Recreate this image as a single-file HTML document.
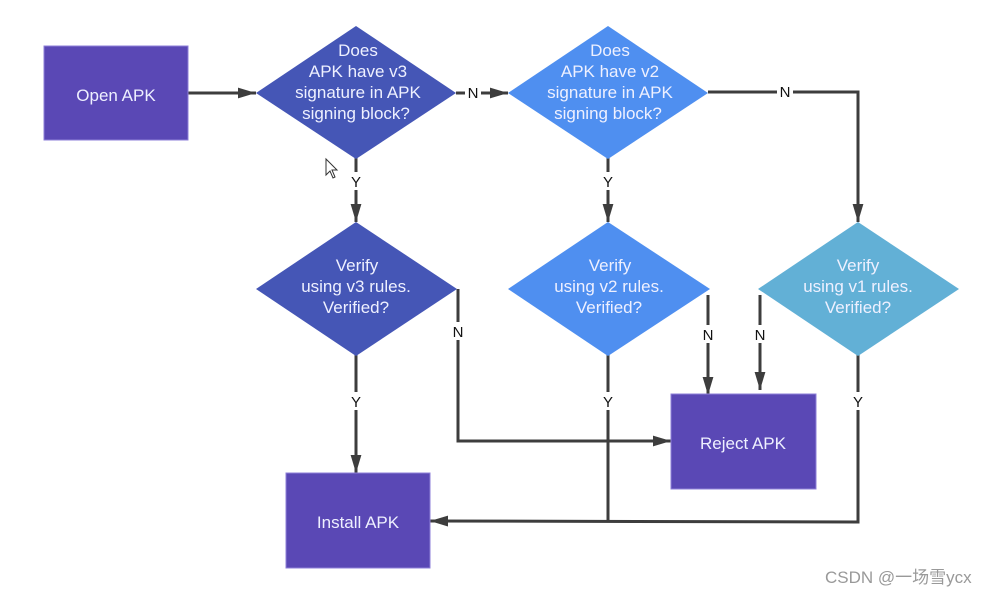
<!DOCTYPE html>
<html><head><meta charset="utf-8"><style>
html,body{margin:0;padding:0;background:#fff;}
svg{display:block;}
text{font-family:"Liberation Sans",Arial,sans-serif;}
</style></head><body>
<svg width="999" height="596" viewBox="0 0 999 596" xmlns="http://www.w3.org/2000/svg">
<defs>
<marker id="a" viewBox="0 0 10 10" refX="10" refY="5" markerWidth="6" markerHeight="6" orient="auto" markerUnits="strokeWidth"><path d="M0,2 L10,5 L0,8 z" fill="#3d3d3d"/></marker>
</defs>
<g stroke="#3d3d3d" stroke-width="3" fill="none">
<line x1="188" y1="93" x2="256" y2="93" marker-end="url(#a)"/>
<line x1="456" y1="93" x2="508" y2="93" marker-end="url(#a)"/>
<polyline points="708,92 858,92 858,222" marker-end="url(#a)"/>
<line x1="356" y1="158" x2="356" y2="222" marker-end="url(#a)"/>
<line x1="608" y1="158" x2="608" y2="222" marker-end="url(#a)"/>
<polyline points="458,289 458,441 671,441" marker-end="url(#a)"/>
<line x1="356" y1="355" x2="356" y2="473" marker-end="url(#a)"/>
<line x1="708" y1="295" x2="708" y2="395" marker-end="url(#a)"/>
<line x1="760" y1="295" x2="760" y2="390" marker-end="url(#a)"/>
<line x1="608" y1="355" x2="608" y2="521"/>
<polyline points="858,355 858,522 430,521" marker-end="url(#a)"/>
</g>
<g fill="#fff">
<rect x="465" y="85" width="16" height="16"/>
<rect x="777" y="84" width="16" height="16"/>
<rect x="348" y="172" width="16" height="18"/>
<rect x="600" y="172" width="16" height="18"/>
<rect x="450" y="322" width="16" height="18"/>
<rect x="700" y="325" width="16" height="18"/>
<rect x="752" y="325" width="16" height="18"/>
<rect x="348" y="392" width="16" height="18"/>
<rect x="600" y="392" width="16" height="18"/>
<rect x="850" y="392" width="16" height="18"/>
</g>
<g font-size="15" fill="#111" text-anchor="middle">
<text x="473" y="98">N</text>
<text x="785" y="97">N</text>
<text x="356" y="187">Y</text>
<text x="608" y="187">Y</text>
<text x="458" y="337">N</text>
<text x="708" y="340">N</text>
<text x="760" y="340">N</text>
<text x="356" y="407">Y</text>
<text x="608" y="407">Y</text>
<text x="858" y="407">Y</text>
</g>
<rect x="44" y="46" width="144" height="94" fill="#5a48b5" stroke="#8e7fd8" stroke-width="1"/>
<rect x="671" y="394" width="145" height="95" fill="#5a48b5" stroke="#8e7fd8" stroke-width="1"/>
<rect x="286" y="473" width="144" height="95" fill="#5a48b5" stroke="#8e7fd8" stroke-width="1"/>
<polygon points="356,26 456,93 356,159 256,93" fill="#4556b6"/>
<polygon points="608,26 708,93 608,159 508,93" fill="#4f8ff0"/>
<polygon points="356,222 457,289 356,356 256,289" fill="#4556b6"/>
<polygon points="608,222 710,289 608,356 508,289" fill="#4f8ff0"/>
<polygon points="858,222 959,289 858,356 758,289" fill="#62b0d6"/>
<g font-size="17" fill="#eef0ff" text-anchor="middle">
<text x="116" y="101">Open APK</text>
<text x="743" y="449">Reject APK</text>
<text x="358" y="528">Install APK</text>
<text x="358" y="56">Does</text>
<text x="358" y="77">APK have v3</text>
<text x="358" y="98">signature in APK</text>
<text x="356" y="119">signing block?</text>
<text x="610" y="56">Does</text>
<text x="610" y="77">APK have v2</text>
<text x="610" y="98">signature in APK</text>
<text x="608" y="119">signing block?</text>
<text x="357" y="271">Verify</text>
<text x="356" y="292">using v3 rules.</text>
<text x="356" y="313">Verified?</text>
<text x="610" y="271">Verify</text>
<text x="609" y="292">using v2 rules.</text>
<text x="609" y="313">Verified?</text>
<text x="858" y="271">Verify</text>
<text x="858" y="292">using v1 rules.</text>
<text x="858" y="313">Verified?</text>
</g>
<polygon points="326,159 326,175 330,171 333,178 335,177 332,170 337,170" fill="#fff" stroke="#333" stroke-width="1"/>
<text x="825" y="583" font-size="17" fill="#999" style='font-family:"Liberation Sans","Noto Sans CJK SC",sans-serif'>CSDN @一场雪ycx</text>
</svg>
</body></html>
